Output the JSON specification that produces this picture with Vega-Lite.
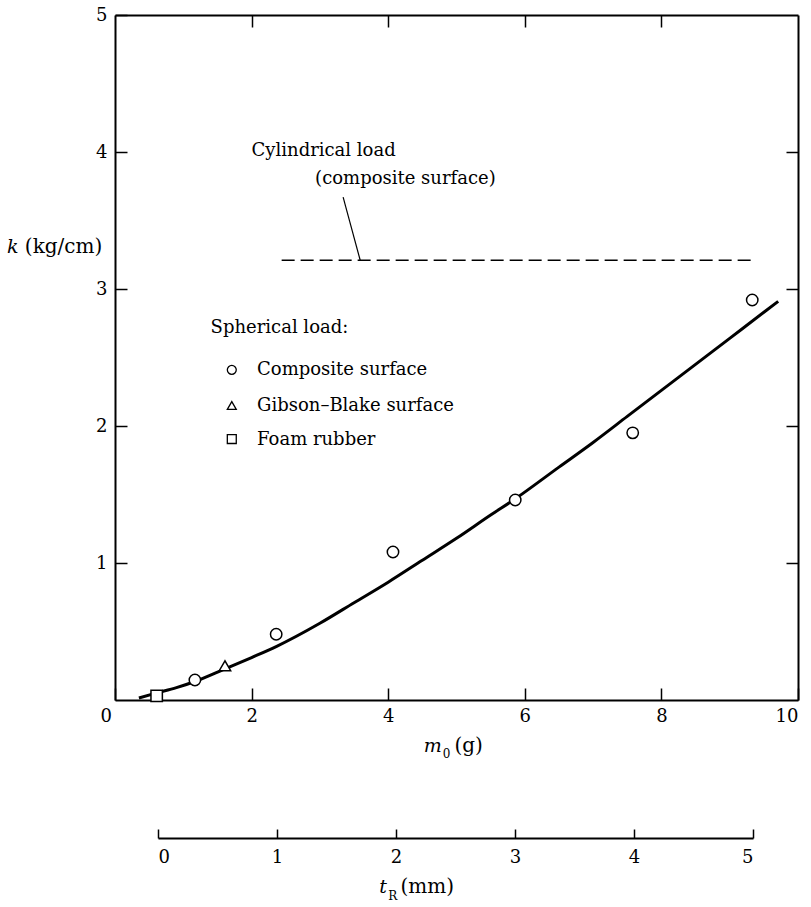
{
  "$schema": "https://vega.github.io/schema/vega-lite/v6.json",
  "width": 683,
  "height": 685,
  "autosize": "none",
  "padding": {"left": 115, "top": 15, "right": 13, "bottom": 207},
  "background": "white",
  "config": {
    "view": {"stroke": null},
    "font": "DejaVu Serif",
    "axis": {"labelFont": "DejaVu Serif", "labelFontSize": 18, "labelColor": "black", "domainColor": "black", "tickColor": "black", "domainWidth": 2, "tickWidth": 1.5, "grid": false},
    "text": {"font": "DejaVu Serif", "fontSize": 18, "color": "black", "align": "left", "baseline": "alphabetic"}
  },
  "datasets": {
    "curve": [
      {"m0": 0.35, "k": 0.015}, {"m0": 0.6, "k": 0.05}, {"m0": 0.9, "k": 0.09}, {"m0": 1.17, "k": 0.135},
      {"m0": 1.6, "k": 0.225}, {"m0": 2.0, "k": 0.31}, {"m0": 2.36, "k": 0.39}, {"m0": 3.0, "k": 0.56},
      {"m0": 3.5, "k": 0.71}, {"m0": 4.0, "k": 0.86}, {"m0": 4.5, "k": 1.02}, {"m0": 5.0, "k": 1.18},
      {"m0": 5.5, "k": 1.35}, {"m0": 5.85, "k": 1.465}, {"m0": 6.5, "k": 1.7}, {"m0": 7.0, "k": 1.88},
      {"m0": 7.5, "k": 2.07}, {"m0": 8.0, "k": 2.26}, {"m0": 8.5, "k": 2.45}, {"m0": 9.0, "k": 2.64},
      {"m0": 9.5, "k": 2.83}, {"m0": 9.71, "k": 2.91}
    ],
    "points": [
      {"series": "Composite surface", "m0": 1.17, "k": 0.146},
      {"series": "Composite surface", "m0": 2.36, "k": 0.48},
      {"series": "Composite surface", "m0": 4.07, "k": 1.08},
      {"series": "Composite surface", "m0": 5.86, "k": 1.46},
      {"series": "Composite surface", "m0": 7.58, "k": 1.95},
      {"series": "Composite surface", "m0": 9.33, "k": 2.92},
      {"series": "Gibson–Blake surface", "m0": 1.61, "k": 0.25},
      {"series": "Foam rubber", "m0": 0.61, "k": 0.03}
    ],
    "keys": [
      {"series": "Composite surface", "m0": 1.71, "k": 2.41},
      {"series": "Gibson–Blake surface", "m0": 1.71, "k": 2.15},
      {"series": "Foam rubber", "m0": 1.71, "k": 1.905}
    ],
    "cyl": [{"m0": 2.44, "m0_end": 9.37, "k": 3.21}],
    "leader": [{"m0": 3.34, "k": 3.67, "m0_end": 3.59, "k_end": 3.21}],
    "notes": [
      {"text": "Cylindrical load", "m0": 2.0, "k": 3.97},
      {"text": "(composite surface)", "m0": 2.93, "k": 3.77},
      {"text": "Spherical load:", "m0": 1.4, "k": 2.68},
      {"text": "Composite surface", "m0": 2.08, "k": 2.37},
      {"text": "Gibson–Blake surface", "m0": 2.08, "k": 2.11},
      {"text": "Foam rubber", "m0": 2.08, "k": 1.86}
    ],
    "titles": [
      {"text": "(kg/cm)", "m0": -1.32, "k": 3.26},
      {"text": "(g)", "m0": 4.97, "k": -0.378},
      {"text": "(mm)", "m0": 4.18, "k": -1.41}
    ],
    "italics": [
      {"text": "k", "m0": -1.58, "k": 3.26},
      {"text": "m", "m0": 4.52, "k": -0.378},
      {"text": "t", "m0": 3.87, "k": -1.41}
    ],
    "subs": [
      {"text": "0", "m0": 4.8, "k": -0.42},
      {"text": "R", "m0": 4.0, "k": -1.46}
    ],
    "tscale": [{"t": 0}, {"t": 5}]
  },
  "layer": [
    {
      "layer": [
        {
          "data": {"name": "curve"},
          "mark": {"type": "line", "color": "black", "strokeWidth": 3, "interpolate": "monotone"},
          "encoding": {
            "x": {"field": "m0", "type": "quantitative", "scale": {"domain": [0, 10], "nice": false, "zero": false},
              "axis": {"orient": "bottom", "values": [0, 2, 4, 6, 8, 10], "tickSize": -12, "labelPadding": 19, "title": null, "format": "d",
                "labelOffset": {"condition": {"test": "datum.value === 0", "value": -15}, "value": 0}}},
            "y": {"field": "k", "type": "quantitative", "scale": {"domain": [0, 5], "nice": false},
              "axis": {"orient": "left", "values": [1, 2, 3, 4, 5], "tickSize": -12, "labelPadding": 20, "title": null, "format": "d"}}
          }
        },
        {
          "data": {"name": "points"},
          "mark": {"type": "point", "filled": true, "fill": "white", "stroke": "black", "strokeWidth": 1.5, "opacity": 1, "size": 130},
          "encoding": {
            "x": {"field": "m0", "type": "quantitative", "scale": {"domain": [0, 10], "nice": false, "zero": false},
              "axis": {"orient": "top", "values": [2, 4, 6, 8], "tickSize": -12, "labels": false, "title": null}},
            "y": {"field": "k", "type": "quantitative", "scale": {"domain": [0, 5], "nice": false},
              "axis": {"orient": "right", "values": [1, 2, 3, 4], "tickSize": -12, "labels": false, "title": null}},
            "shape": {"field": "series", "type": "nominal", "legend": null,
              "scale": {"domain": ["Composite surface", "Gibson–Blake surface", "Foam rubber"], "range": ["circle", "triangle-up", "square"]}}
          }
        },
        {
          "data": {"name": "keys"},
          "mark": {"type": "point", "filled": true, "fill": "white", "stroke": "black", "strokeWidth": 1.3, "opacity": 1, "size": 80},
          "encoding": {
            "x": {"field": "m0", "type": "quantitative", "axis": null},
            "y": {"field": "k", "type": "quantitative", "axis": null},
            "shape": {"field": "series", "type": "nominal", "legend": null,
              "scale": {"domain": ["Composite surface", "Gibson–Blake surface", "Foam rubber"], "range": ["circle", "triangle-up", "square"]}}
          }
        },
        {
          "data": {"name": "cyl"},
          "mark": {"type": "rule", "color": "black", "strokeWidth": 1.5, "strokeDash": [13, 6]},
          "encoding": {
            "x": {"field": "m0", "type": "quantitative", "axis": null},
            "x2": {"field": "m0_end"},
            "y": {"field": "k", "type": "quantitative", "axis": null}
          }
        },
        {
          "data": {"name": "leader"},
          "mark": {"type": "rule", "color": "black", "strokeWidth": 1.2},
          "encoding": {
            "x": {"field": "m0", "type": "quantitative", "axis": null},
            "x2": {"field": "m0_end"},
            "y": {"field": "k", "type": "quantitative", "axis": null},
            "y2": {"field": "k_end"}
          }
        },
        {
          "data": {"name": "notes"},
          "mark": {"type": "text", "align": "left", "baseline": "alphabetic", "fontSize": 18},
          "encoding": {
            "x": {"field": "m0", "type": "quantitative", "axis": null},
            "y": {"field": "k", "type": "quantitative", "axis": null},
            "text": {"field": "text"}
          }
        },
        {
          "data": {"name": "titles"},
          "mark": {"type": "text", "align": "left", "baseline": "alphabetic", "fontSize": 20},
          "encoding": {
            "x": {"field": "m0", "type": "quantitative", "axis": null},
            "y": {"field": "k", "type": "quantitative", "axis": null},
            "text": {"field": "text"}
          }
        },
        {
          "data": {"name": "italics"},
          "mark": {"type": "text", "align": "left", "baseline": "alphabetic", "fontSize": 19, "fontStyle": "italic"},
          "encoding": {
            "x": {"field": "m0", "type": "quantitative", "axis": null},
            "y": {"field": "k", "type": "quantitative", "axis": null},
            "text": {"field": "text"}
          }
        },
        {
          "data": {"name": "subs"},
          "mark": {"type": "text", "align": "left", "baseline": "alphabetic", "fontSize": 12},
          "encoding": {
            "x": {"field": "m0", "type": "quantitative", "axis": null},
            "y": {"field": "k", "type": "quantitative", "axis": null},
            "text": {"field": "text"}
          }
        }
      ],
      "resolve": {"axis": {"x": "independent", "y": "independent"}}
    },
    {
      "data": {"name": "tscale"},
      "mark": {"type": "point", "opacity": 0},
      "encoding": {
        "x": {"field": "t", "type": "quantitative", "scale": {"domain": [0, 5], "range": [43, 638]},
          "axis": {"orient": "bottom", "offset": 138, "values": [0, 1, 2, 3, 4, 5], "tickSize": -9, "labelPadding": 19, "title": null, "format": "d"}}
      }
    }
  ],
  "resolve": {"scale": {"x": "independent"}, "axis": {"x": "independent"}}
}
